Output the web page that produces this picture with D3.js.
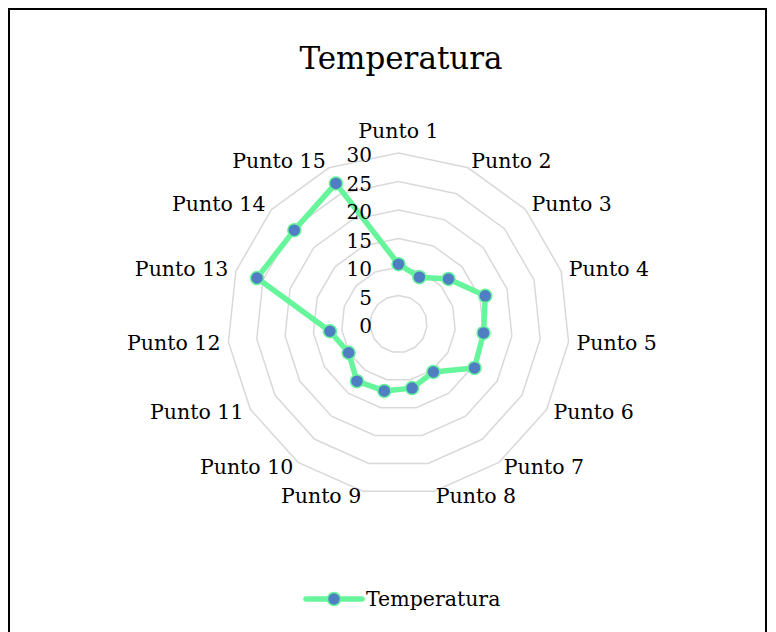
<!DOCTYPE html>
<html>
<head>
<meta charset="utf-8">
<script src="https://cdn.jsdelivr.net/npm/d3@7"></script>
<style>
  html, body { margin: 0; padding: 0; background: #fff; }
  svg { display: block; }
  text { font-family: "DejaVu Serif", "Liberation Serif", serif; fill: #000; }
</style>
</head>
<body>
<svg id="chart" width="776" height="632"></svg>
<script>
const categories = ["Punto 1","Punto 2","Punto 3","Punto 4","Punto 5","Punto 6","Punto 7","Punto 8","Punto 9","Punto 10","Punto 11","Punto 12","Punto 13","Punto 14","Punto 15"];
const temperatura = [10.5, 9, 11.8, 16, 15, 15.4, 10.4, 11.5, 12, 12.4, 10.1, 12.1, 26.1, 24.6, 27];
const tickValues = [0, 5, 10, 15, 20, 25, 30];
const seriesName = "Temperatura";
const chartTitle = "Temperatura";

const W = 776, H = 632;
const cx = 398.5, cy = 324, R = 171;
const svg = d3.select("#chart");

// frame
svg.append("rect").attr("x", 9).attr("y", 9).attr("width", 757).attr("height", 640)
  .attr("fill", "#fff").attr("stroke", "#000").attr("stroke-width", 2);

// title
svg.append("text").attr("x", 401).attr("y", 69).attr("text-anchor", "middle")
  .style("font-size", "31px").text(chartTitle);

const r = d3.scaleLinear().domain([0, 30]).range([0, R]);
const step = 2 * Math.PI / categories.length;
const ang = (i) => i * step;
const px = (i, v) => cx + r(v) * Math.sin(ang(i));
const py = (i, v) => cy - r(v) * Math.cos(ang(i));

const g = svg.append("g");

// grid rings
const ringLine = d3.line().x(d => d[0]).y(d => d[1]).curve(d3.curveLinearClosed);
tickValues.filter(t => t > 0).forEach(t => {
  const pts = categories.map((c, i) => [px(i, t), py(i, t)]);
  g.append("path").attr("d", ringLine(pts)).attr("fill", "none")
    .attr("stroke", "#d9d9d9").attr("stroke-width", 1.5);
});

// series line
const line = d3.lineRadial().angle((d, i) => ang(i)).radius(d => r(d)).curve(d3.curveLinearClosed);
g.append("path").attr("transform", `translate(${cx},${cy})`).attr("d", line(temperatura))
  .attr("fill", "none").attr("stroke", "#66f59a").attr("stroke-width", 5.5).attr("stroke-linejoin", "round");

// markers
g.selectAll("circle.m").data(temperatura).enter().append("circle")
  .attr("cx", (d, i) => px(i, d)).attr("cy", (d, i) => py(i, d)).attr("r", 6.5)
  .attr("fill", "#4f7fc2").attr("stroke", "#66f59a").attr("stroke-width", 1.5);

// tick labels
svg.selectAll("text.tick").data(tickValues).enter().append("text")
  .attr("x", 372).attr("y", d => cy - r(d) + 2).attr("dy", "0.35em")
  .attr("text-anchor", "end").style("font-size", "20px").text(d => d);

// category labels
const LR = R + 8;
svg.selectAll("text.cat").data(categories).enter().append("text")
  .attr("x", (d, i) => cx + LR * Math.sin(ang(i)))
  .attr("y", (d, i) => {
    const a = ang(i), c = Math.cos(a);
    if (Math.abs(Math.sin(a)) < 0.1) return cy - LR * c - 14;
    return cy - R * c - (c > 0 ? 8 : 5) * c;
  })
  .attr("dy", "0.35em")
  .attr("text-anchor", (d, i) => {
    const s = Math.sin(ang(i));
    return s > 0.1 ? "start" : (s < -0.1 ? "end" : "middle");
  })
  .style("font-size", "20.5px").text(d => d);

// legend
const lg = svg.append("g");
lg.append("line").attr("x1", 306).attr("x2", 362).attr("y1", 599).attr("y2", 599)
  .attr("stroke", "#66f59a").attr("stroke-width", 5.5).attr("stroke-linecap", "round");
lg.append("circle").attr("cx", 334).attr("cy", 599).attr("r", 6.5)
  .attr("fill", "#4f7fc2").attr("stroke", "#66f59a").attr("stroke-width", 1.5);
lg.append("text").attr("x", 366).attr("y", 599).attr("dy", "0.35em")
  .style("font-size", "20.5px").text(seriesName);
</script>
</body>
</html>
